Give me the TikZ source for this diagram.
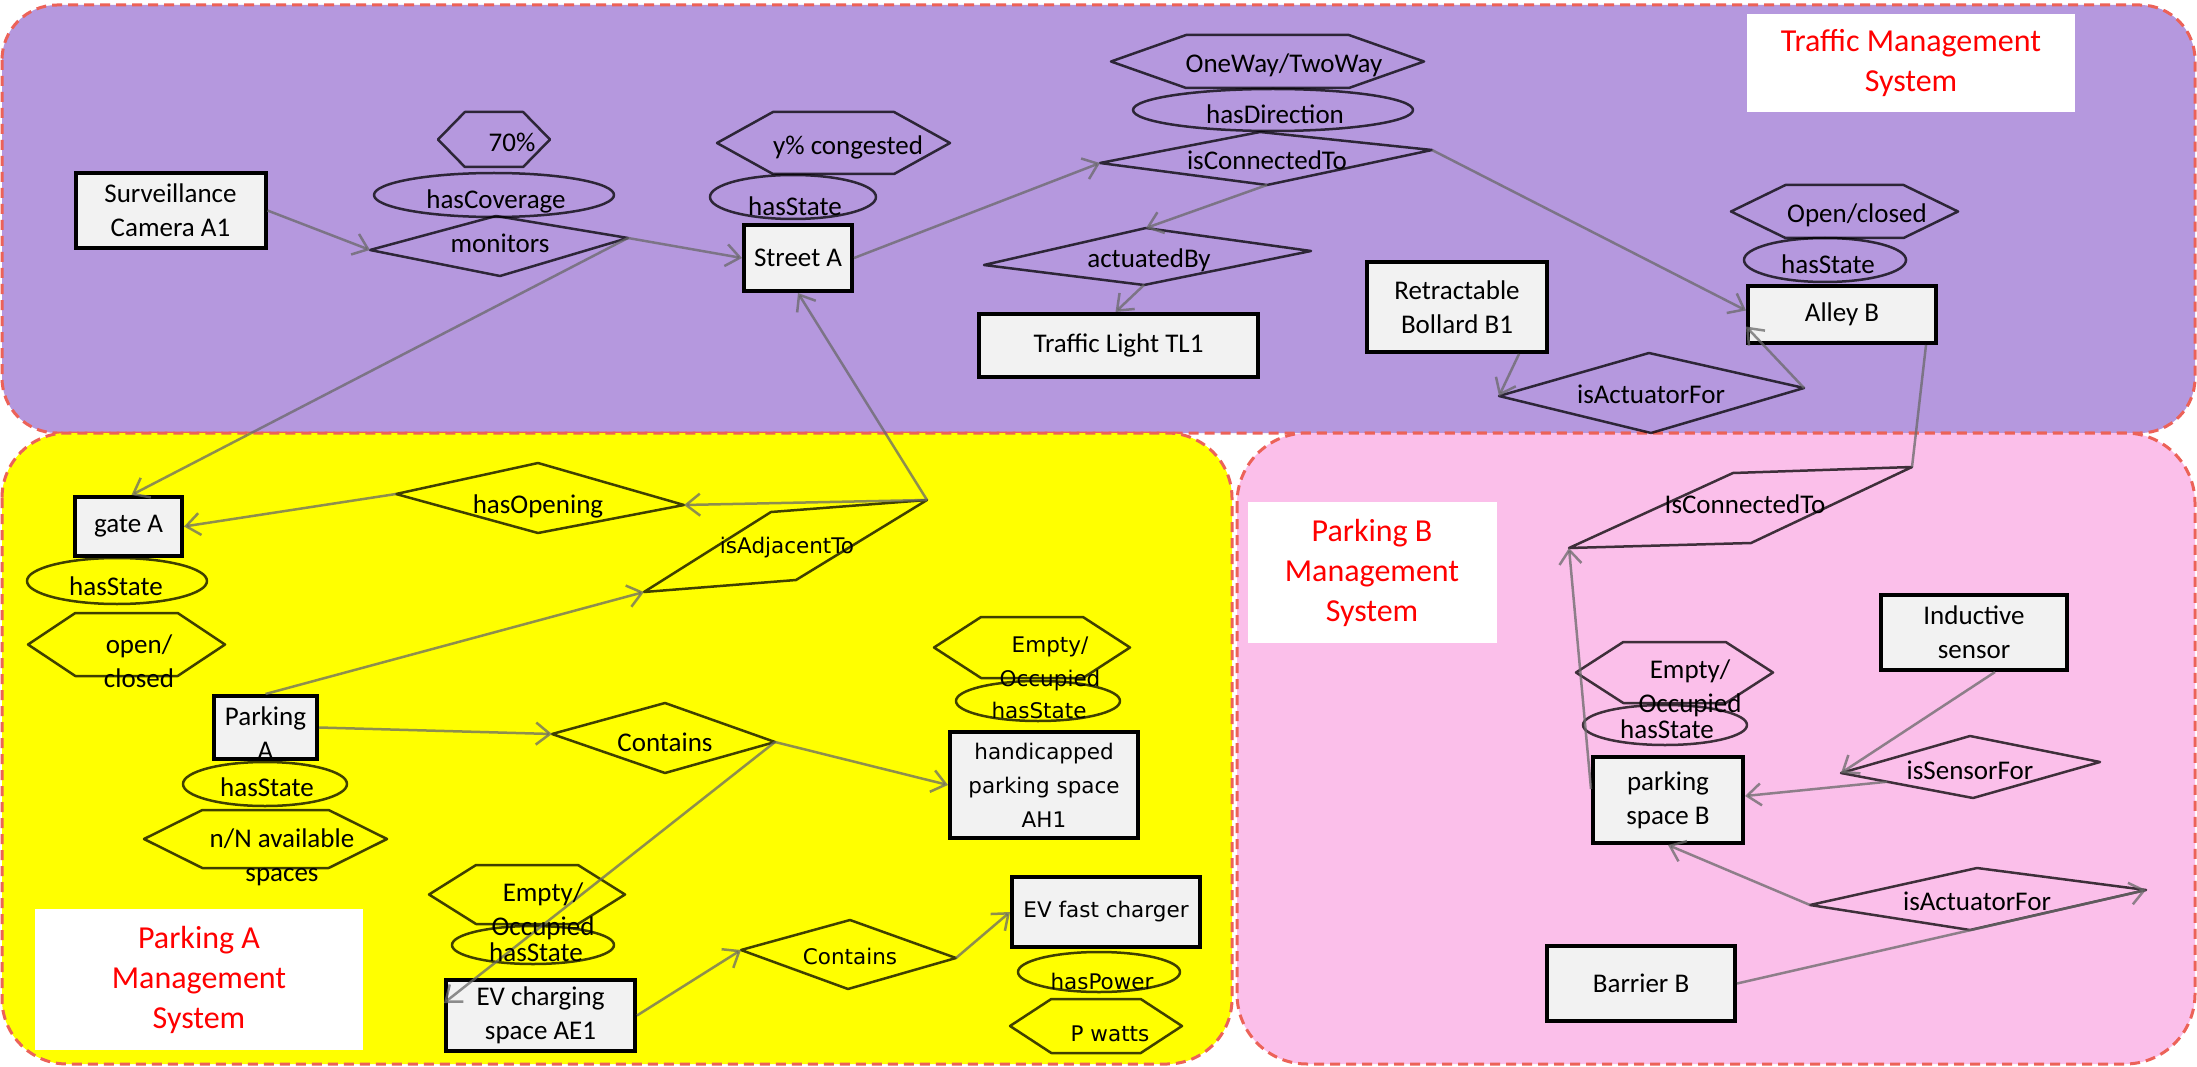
\documentclass[tikz,border=0pt]{standalone}
\usepackage{fontspec}
\setmainfont{Carlito}
\newfontfamily\vfont{DejaVu Sans}
\usetikzlibrary{arrows.meta,calc}

\definecolor{trafficbg}{RGB}{181,152,222}
\definecolor{parkAbg}{RGB}{255,255,0}
\definecolor{parkBbg}{RGB}{251,191,234}
\definecolor{regionline}{RGB}{236,98,88}
\definecolor{boxfill}{RGB}{242,242,242}
\definecolor{linkgray}{RGB}{105,105,105}

\tikzset{
  region/.style={draw=regionline, line width=3pt, dash pattern=on 10pt off 6pt},
  shp/.style={draw=black, draw opacity=0.75, line width=2.5pt, line join=round},
  conn/.style={draw=linkgray, draw opacity=0.75, line width=2.5pt,
    -{Straight Barb[length=14pt,width=22pt]}},
  link/.style={draw=linkgray, draw opacity=0.75, line width=2.5pt},
  entity/.style={draw=black, line width=4pt, fill=boxfill, inner sep=0pt,
    align=center, font=\fontsize{27}{34}\selectfont},
  ventity/.style={entity, font=\vfont\fontsize{21.5}{34}\selectfont},
  lab/.style={inner sep=0pt, align=center, font=\fontsize{27}{34}\selectfont},
  vlab/.style={inner sep=0pt, align=center, font=\vfont\fontsize{21.5}{34}\selectfont},
  oneline/.style={text height=17pt, text depth=5pt},
  syslabel/.style={fill=white, inner sep=0pt, align=center, text=red,
    font=\fontsize{32}{40}\selectfont},
}

% hexagon with pointed left/right ends: x1, y1, x2, y2
\newcommand\hexpath[4]{%
  \draw[shp] (#1,{(#2+#4)/2}) -- ({#1+0.24*(#3-#1)},#2) -- ({#3-0.24*(#3-#1)},#2)
    -- (#3,{(#2+#4)/2}) -- ({#3-0.24*(#3-#1)},#4) -- ({#1+0.24*(#3-#1)},#4) -- cycle;}
% relation diamond: name, west, north, east, south
\newcommand\relshape[5]{%
  \coordinate (#1-w) at (#2); \coordinate (#1-n) at (#3);
  \coordinate (#1-e) at (#4); \coordinate (#1-s) at (#5);
  \draw[shp] (#1-w) -- (#1-n) -- (#1-e) -- (#1-s) -- cycle;}
% slanted parallelogram: name, top left, top right, bottom right, bottom left
\newcommand\slantshape[5]{%
  \coordinate (#1-tl) at (#2); \coordinate (#1-tr) at (#3);
  \coordinate (#1-br) at (#4); \coordinate (#1-bl) at (#5);
  \draw[shp] (#1-tl) -- (#1-tr) -- (#1-br) -- (#1-bl) -- cycle;}

\begin{document}
\begin{tikzpicture}[x=1pt, y=-1pt]
\useasboundingbox (0,0) rectangle (2197,1067);
\fill[white] (0,0) rectangle (2197,1067);

% subsystem areas
\draw[region, fill=trafficbg, rounded corners=55pt] (2,5) rectangle (2195,433);
\draw[region, fill=parkAbg, rounded corners=65pt] (2,433) rectangle (1232,1064);
\draw[region, fill=parkBbg, rounded corners=70pt] (1237,433) rectangle (2195,1064);

% subsystem titles
\node[syslabel, minimum width=328pt, minimum height=98pt] (tms) at (1911,63)
  {Traffic Management\\System};
\node[syslabel, minimum width=328pt, minimum height=141pt] (pams) at (199,979.5)
  {Parking A\\Management\\System};
\node[syslabel, minimum width=249pt, minimum height=141pt] (pbms) at (1372,572.5)
  {Parking B\\Management\\System};

% ---------- value hexagons ----------
\hexpath{438}{112}{550}{167}
\hexpath{717}{112}{950}{174}
\hexpath{1111}{35}{1424}{88}
\hexpath{1731}{185}{1958}{238}
\hexpath{1576}{642}{1773}{703}
\hexpath{28}{613}{225}{676}
\hexpath{144}{810}{387}{868}
\hexpath{934}{617}{1130}{678}
\hexpath{1010}{999}{1182}{1053}
\hexpath{429}{865}{625}{924}

% ---------- attribute ellipses ----------
\draw[shp] (494,195) ellipse [x radius=120pt, y radius=22pt];
\draw[shp] (793,197) ellipse [x radius=83pt, y radius=22pt];
\draw[shp] (1273,110) ellipse [x radius=140pt, y radius=21pt];
\draw[shp] (1825,260) ellipse [x radius=81pt, y radius=22pt];
\draw[shp] (1665,725) ellipse [x radius=82pt, y radius=20pt];
\draw[shp] (117,581) ellipse [x radius=90pt, y radius=23pt];
\draw[shp] (265,784) ellipse [x radius=82pt, y radius=22pt];
\draw[shp] (1038,701) ellipse [x radius=82pt, y radius=20pt];
\draw[shp] (1099,972) ellipse [x radius=81pt, y radius=20pt];
\draw[shp] (533,945) ellipse [x radius=81pt, y radius=19pt];

% ---------- relations ----------
\relshape{mon}{370,250}{496,216}{628,238}{500,276}
\relshape{icto}{1100,163}{1260,132}{1432,150}{1267,185}
\relshape{act}{984,265}{1146,228}{1311,251}{1144,285}
\relshape{act1}{1499,396}{1649,353}{1804,388}{1651,433}
\relshape{sens}{1841,773}{1970,736}{2100,762}{1973,798}
\relshape{act2}{1810,905}{1977,868}{2146,890}{1970,930}
\relshape{open}{396,494}{538,463}{684,505}{538,533}
\relshape{cont1}{552,734}{665,703}{775,742}{665,773}
\relshape{cont2}{741,950}{850,920}{956,958}{848,989}
\slantshape{picto}{1733,473}{1912,467}{1751,543}{1569,548}
\slantshape{adj}{771,512}{927,500}{796,580}{644,592}

% ---------- entities ----------
\node[entity, minimum width=190pt, minimum height=75pt] (cam) at (170.5,210.5) {Surveillance\\Camera A1};
\node[entity, minimum width=108pt, minimum height=66pt] (streetA) at (798,258) {Street A};
\node[entity, minimum width=279pt, minimum height=63pt] (tl) at (1118.5,345.5) {Traffic Light TL1};
\node[entity, minimum width=180pt, minimum height=90pt] (bollard) at (1457,307) {Retractable\\Bollard B1};
\node[entity, minimum width=188pt, minimum height=57pt] (alleyB) at (1842,314.5) {Alley B};
\node[entity, minimum width=150pt, minimum height=86pt] (parkB) at (1668,800) {parking\\space B};
\node[entity, minimum width=186pt, minimum height=75pt] (ind) at (1974,632.5) {Inductive\\sensor};
\node[entity, minimum width=188pt, minimum height=75pt] (barrier) at (1641,983.5) {Barrier B};
\node[entity, minimum width=107pt, minimum height=59pt] (gateA) at (128.5,526.5) {gate A};
\node[entity, minimum width=103pt, minimum height=63pt] (parkA) at (265.5,727.5) {};
\node[ventity, minimum width=188pt, minimum height=106pt] (ah1) at (1044,785) {handicapped\\parking space\\AH1};
\node[ventity, minimum width=188pt, minimum height=70pt] (evfast) at (1106,912) {EV fast charger};
\node[entity, minimum width=189pt, minimum height=71pt] (evc) at (540.5,1015.5) {EV charging\\space AE1};

% ---------- connectors ----------
\draw[conn] (cam.east) -- (mon-w);
\draw[conn] (mon-e) -- (streetA.west);
\draw[conn] (mon-e) -- ([xshift=3pt]gateA.north);
\draw[conn] (streetA.east) -- (icto-w);
\draw[conn] (icto-s) -- (act-n);
\draw[conn] (act-s) -- ([xshift=-3pt]tl.north);
\draw[conn] (icto-e) -- ([yshift=4pt]alleyB.west);
\draw[conn] ([xshift=62pt]bollard.south) -- (act1-w);
\draw[conn] (act1-e) -- ([yshift=-12pt]alleyB.west);
\draw[link] ([xshift=84pt]alleyB.south) -- (picto-tr);
\draw[conn] ([yshift=-34pt]parkB.north west) -- (picto-bl);
\draw[conn] ([xshift=21pt]ind.south) -- (sens-w);
\draw[conn] ($(sens-w)!0.35!(sens-s)$) -- ([yshift=4pt]parkB.east);
\draw[conn] (act2-w) -- (parkB.south);
\draw[conn] (barrier.east) -- (act2-e);
\draw[conn] (open-w) -- (gateA.east);
\draw[conn] (adj-tr) -- (open-e);
\draw[conn] (adj-tr) -- (streetA.south);
\draw[conn] (parkA.north) -- (adj-bl);
\draw[conn] (parkA.east) -- (cont1-w);
\draw[conn] (cont1-e) -- (ah1.west);
\draw[conn] (cont1-e) -- ([yshift=-25pt]evc.north west);
\draw[conn] (evc.east) -- (cont2-w);
\draw[conn] (cont2-e) -- (evfast.west);

% ---------- texts: traffic management ----------
\node[lab,oneline] (t70) at (512,146) {70\%};
\node[lab,oneline] (tcov) at (496,203) {hasCoverage};
\node[lab,oneline] (tmon) at (500,247) {monitors};
\node[lab,oneline] (tcong) at (848,149) {y\% congested};
\node[lab,oneline] (tstA) at (795,210) {hasState};
\node[lab,oneline] (tway) at (1284,67) {OneWay/TwoWay};
\node[lab,oneline] (tdir) at (1275,118) {hasDirection};
\node[lab,oneline] (ticto) at (1267,164) {isConnectedTo};
\node[lab,oneline] (tact) at (1149,262) {actuatedBy};
\node[lab,oneline] (topen) at (1857,217) {Open/closed};
\node[lab,oneline] (tstB) at (1828,268) {hasState};
\node[lab,oneline] (tact1) at (1651,397) {isActuatorFor};

% ---------- texts: parking B ----------
\node[lab,oneline] (tpicto) at (1745,507) {IsConnectedTo};
\node[lab] (temB) at (1690,688) {Empty/\\Occupied};
\node[lab,oneline] (tstPB) at (1667,732) {hasState};
\node[lab,oneline] (tsens) at (1970,773) {isSensorFor};
\node[lab,oneline] (tact2) at (1977,904) {isActuatorFor};

% ---------- texts: parking A ----------
\node[lab,oneline] (tstG) at (116,589) {hasState};
\node[lab] (tgo) at (139,661) {open/\\closed};
\node[lab,oneline] (topn) at (538,507) {hasOpening};
\node[vlab,oneline] (tadj) at (787,547) {isAdjacentTo};
\node[lab] (tparkA) at (265.5,733.5) {Parking\\A};
\node[lab,oneline] (tstPA) at (267,790) {hasState};
\node[lab] (tnN) at (282,857) {n/N available\\spaces};
\node[lab,oneline] (tcont1) at (665,745) {Contains};
\node[vlab] (temAH) at (1050,664) {Empty/\\Occupied};
\node[vlab,oneline] (tstAH) at (1039,712) {hasState};
\node[vlab,oneline] (tpow) at (1102,983) {hasPower};
\node[vlab,oneline] (tpw) at (1110,1035) {P watts};
\node[vlab,oneline] (tcont2) at (850,958) {Contains};
\node[lab] (temAE) at (543,911) {Empty/\\Occupied};
\node[lab,oneline] (tstAE) at (536,955) {hasState};
\end{tikzpicture}
\end{document}
